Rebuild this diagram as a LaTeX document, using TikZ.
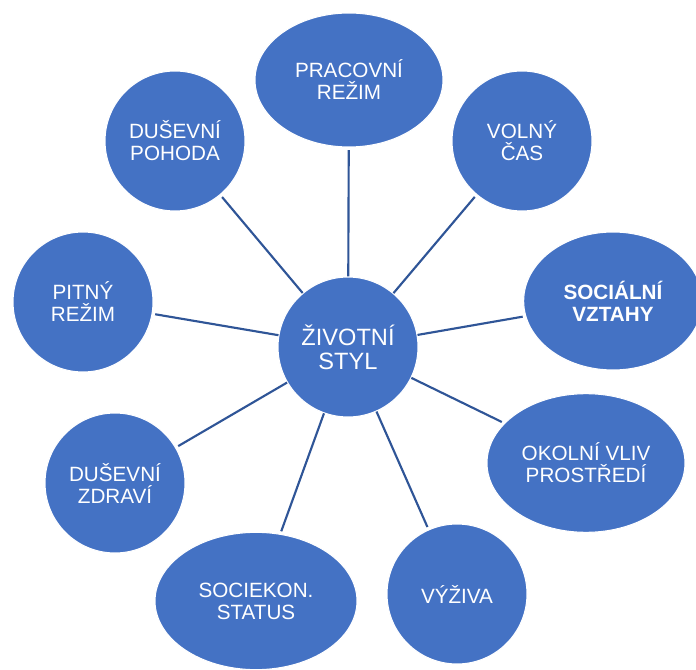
\documentclass[tikz,border=0pt]{standalone}
\usepackage{fontspec}
\setmainfont{Liberation Sans}
\usetikzlibrary{shapes.geometric}

\definecolor{bubblefill}{HTML}{4472C4}
\definecolor{spokecol}{HTML}{2F5597}

\begin{document}
\begin{tikzpicture}[x=0.75pt, y=-0.75pt,
  bubble/.style={circle, fill=bubblefill, draw=white, line width=0.8pt,
    minimum size=105pt, inner sep=0pt, align=center, text=white,
    font=\fontsize{15.5}{16.5}\selectfont},
  oval/.style={bubble, ellipse},
  spoke/.style={draw=spokecol, line width=1.6pt, shorten >=2pt}]

% page frame (696 x 670 px)
\useasboundingbox (0,0) rectangle (696,670);

% hub
\node[bubble, minimum size=105pt, font=\fontsize{17.7}{18}\selectfont]
  (styl) at (348,347) {ŽIVOTNÍ\\STYL};

% ring of factors
\node[oval, minimum width=141pt, minimum height=100.5pt] (pracovni) at (349,80) {PRACOVNÍ\\REŽIM};
\node[bubble] (volny) at (522,141) {VOLNÝ\\ČAS};
\node[oval, minimum width=134pt, minimum height=103.5pt, font=\fontsize{15.5}{16.5}\selectfont\bfseries]
  (socialni) at (613,301) {SOCIÁLNÍ\\VZTAHY};
\node[oval, minimum width=148.5pt, minimum height=104pt] (okolni) at (586,463) {OKOLNÍ VLIV\\PROSTŘEDÍ};
\node[bubble] (vyziva) at (457,594) {VÝŽIVA};
\node[oval, minimum width=151.5pt, minimum height=103pt] (sociekon) at (256,601) {SOCIEKON.\\STATUS};
\node[bubble] (zdravi) at (115,483) {DUŠEVNÍ\\ZDRAVÍ};
\node[bubble] (pitny) at (83,302) {PITNÝ\\REŽIM};
\node[bubble] (pohoda) at (175,141) {DUŠEVNÍ\\POHODA};

% spokes
\foreach \n in {pracovni,volny,socialni,okolni,vyziva,sociekon,zdravi,pitny,pohoda} {
  \draw[spoke] (styl) -- (\n);
}

\end{tikzpicture}
\end{document}
